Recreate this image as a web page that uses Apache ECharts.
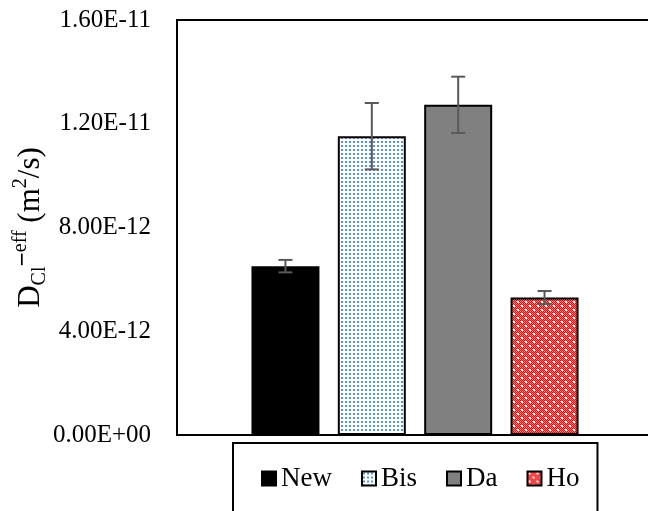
<!DOCTYPE html>
<html>
<head>
<meta charset="utf-8">
<script src="https://cdn.jsdelivr.net/npm/echarts@6/dist/echarts.min.js"></script>
<style>
html,body{margin:0;padding:0;background:#fff;}
#chart{width:648px;height:511px;}
</style>
</head>
<body>
<div id="chart"></div>
<script>
const categories = ['New', 'Bis', 'Da', 'Ho'];
const values = [6.51e-12, 11.52e-12, 12.73e-12, 5.30e-12];
const errors = [0.24e-12, 1.28e-12, 1.085e-12, 0.25e-12];
const tickValues = [0, 4e-12, 8e-12, 1.2e-11, 1.6e-11];
const tickLabels = ['0.00E+00', '4.00E-12', '8.00E-12', '1.20E-11', '1.60E-11'];

const FONT = 'Liberation Serif';

function makePattern(size, draw) {
  const c = document.createElement('canvas');
  c.width = size; c.height = size;
  const ctx = c.getContext('2d');
  draw(ctx, size);
  return c;
}
const bisPattern = makePattern(4, (ctx) => {
  ctx.fillStyle = '#ffffff'; ctx.fillRect(0, 0, 4, 4);
  ctx.fillStyle = '#5797d4'; ctx.fillRect(1, 1, 2, 2);
});
const hoPattern = makePattern(8, (ctx) => {
  ctx.fillStyle = '#ff8a8a'; ctx.fillRect(0, 0, 8, 8);
  ctx.fillStyle = '#f00000';
  for (let y = 0; y < 8; y++) for (let x = 0; x < 8; x++) if ((x + y) % 2 === 0) ctx.fillRect(x, y, 1, 1);
  ctx.fillStyle = '#ffffff';
  ctx.fillRect(1, 1, 2, 2); ctx.fillRect(5, 5, 2, 2);
});

const fills = [
  '#000000',
  { image: bisPattern, repeat: 'repeat' },
  '#808080',
  { image: hoPattern, repeat: 'repeat' }
];

const BAR_W = 68, BAR_GAP = '27%';

const barSeries = categories.map((name, i) => ({
  name: name,
  type: 'bar',
  barWidth: BAR_W,
  barGap: BAR_GAP,
  data: [values[i]],
  itemStyle: { color: fills[i], borderColor: '#000', borderWidth: 2 },
  emphasis: { disabled: true },
  animation: false
}));

const errSeries = {
  type: 'custom',
  silent: true,
  animation: false,
  data: categories.map((c, i) => [0, values[i], errors[i], i]),
  renderItem: function (params, api) {
    const idx = api.value(3);
    const layout = api.barLayout({ count: categories.length, barWidth: BAR_W, barGap: BAR_GAP });
    const base = api.coord([api.value(0), api.value(1)]);
    const x = base[0] + layout[idx].offsetCenter;
    const yTop = api.coord([0, api.value(1) + api.value(2)])[1];
    const yBot = api.coord([0, api.value(1) - api.value(2)])[1];
    const cap = 7;
    const st = { stroke: '#595959', lineWidth: 2 };
    return {
      type: 'group',
      children: [
        { type: 'line', shape: { x1: x, y1: yTop, x2: x, y2: yBot }, style: st },
        { type: 'line', shape: { x1: x - cap, y1: yTop, x2: x + cap, y2: yTop }, style: st },
        { type: 'line', shape: { x1: x - cap, y1: yBot, x2: x + cap, y2: yBot }, style: st }
      ]
    };
  },
  z: 10
};

const chart = echarts.init(document.getElementById('chart'), null, { renderer: 'canvas' });
chart.setOption({
  animation: false,
  backgroundColor: '#ffffff',
  grid: {
    left: 177, top: 20, width: 476, bottom: 76,
    outerBoundsMode: 'none',
    containLabel: false,
    show: true, borderColor: '#000', borderWidth: 2, backgroundColor: 'transparent'
  },
  legend: {
    data: categories,
    left: 233, top: 443,
    padding: [22, 18, 30, 28],
    borderColor: '#000', borderWidth: 2,
    itemWidth: 14, itemHeight: 14, itemGap: 29,
    icon: 'rect',
    textStyle: { fontFamily: FONT, fontSize: 27, color: '#000' },
    selectedMode: false
  },
  xAxis: {
    type: 'category',
    data: [''],
    axisLine: { show: false },
    axisTick: { show: false },
    axisLabel: { show: false },
    splitLine: { show: false }
  },
  yAxis: {
    type: 'value',
    min: tickValues[0],
    max: tickValues[tickValues.length - 1],
    interval: tickValues[1] - tickValues[0],
    axisLine: { show: false },
    axisTick: { show: false },
    splitLine: { show: false },
    axisLabel: {
      fontFamily: FONT, fontSize: 25, color: '#000', margin: 26,
      formatter: function (v) {
        let best = 0, bd = Infinity;
        tickValues.forEach((t, i) => { const d = Math.abs(t - v); if (d < bd) { bd = d; best = i; } });
        return tickLabels[best];
      }
    },
    name: '{d|D}{sub|Cl}{dash|−}{sup|eff}{n| (m}{sup2|2}{n|/s)}',
    nameLocation: 'middle',
    nameRotate: 90,
    nameGap: 127,
    nameMoveOverlap: false,
    nameTextStyle: {
      fontFamily: FONT, color: '#000',
      rich: {
        d: { fontFamily: FONT, fontSize: 31, lineHeight: 39, color: '#000' },
        n: { fontFamily: FONT, fontSize: 31, lineHeight: 39, color: '#000' },
        sub: { fontFamily: FONT, fontSize: 20, lineHeight: 19, verticalAlign: 'bottom', color: '#000' },
        dash: { fontFamily: FONT, fontSize: 25, fontWeight: 'bold', lineHeight: 25, verticalAlign: 'top', color: '#000' },
        sup: { fontFamily: FONT, fontSize: 20, lineHeight: 20, verticalAlign: 'top', color: '#000' },
        sup2: { fontFamily: FONT, fontSize: 20, lineHeight: 23, verticalAlign: 'top', color: '#000' }
      }
    }
  },
  series: barSeries.concat([errSeries])
});
</script>
</body>
</html>
